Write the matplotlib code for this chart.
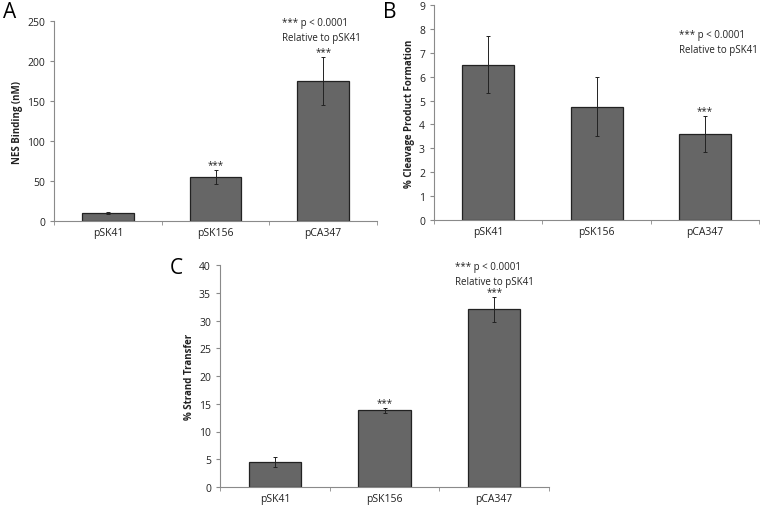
import matplotlib.pyplot as plt
from matplotlib.ticker import FixedLocator

plt.rcParams['font.family'] = ['Open Sans', 'DejaVu Sans']

categories = ['pSK41', 'pSK156', 'pCA347']

nes_binding = [10, 55, 175]
nes_err = [1.5, 9, 30]

cleavage = [6.5, 4.75, 3.6]
cleavage_err = [1.2, 1.25, 0.75]

strand_transfer = [4.5, 13.8, 32]
strand_err = [0.9, 0.5, 2.2]

W, H = 760, 510
BAR_COLOR = '#666666'
SPINE_COLOR = '#8a8a8a'


def px_axes(fig, left, top, right, bottom):
    return fig.add_axes([left / W, 1 - bottom / H, (right - left) / W, (bottom - top) / H])


def draw_panel(ax, values, errs, ymax, ystep, ylabel, stars):
    x = range(len(categories))
    ax.bar(x, values, width=0.48, color=BAR_COLOR, edgecolor='#222222', linewidth=0.9, zorder=2)
    ax.errorbar(x, values, yerr=errs, fmt='none', ecolor='#222222', elinewidth=0.7,
                capsize=1.5, capthick=0.7, zorder=3)
    for i in stars:
        ax.text(i, values[i] + errs[i], '***', ha='center', va='bottom', fontsize=7, color='#222222')
    ax.set_xlim(-0.5, len(categories) - 0.5)
    ax.set_ylim(0, ymax)
    ax.set_yticks([ystep * k for k in range(int(round(ymax / ystep)) + 1)])
    ax.set_xticks(list(x))
    ax.set_xticklabels(categories)
    ax.xaxis.set_minor_locator(FixedLocator([-0.5, 0.5, 1.5, 2.5]))
    ax.tick_params(axis='x', which='major', length=0, pad=4, labelsize=7.5, colors='#222222')
    ax.tick_params(axis='x', which='minor', length=3, color=SPINE_COLOR, direction='out')
    ax.tick_params(axis='y', length=3, color=SPINE_COLOR, labelsize=7.5, labelcolor='#222222')
    for s in ['top', 'right']:
        ax.spines[s].set_visible(False)
    for s in ['left', 'bottom']:
        ax.spines[s].set_color(SPINE_COLOR)
        ax.spines[s].set_linewidth(0.8)
    ax.set_ylabel(ylabel, fontsize=7, fontweight='bold', color='#222222', labelpad=3)


fig = plt.figure(figsize=(W / 100, H / 100), dpi=100)

ax_a = px_axes(fig, 54, 22, 377, 222)
draw_panel(ax_a, nes_binding, nes_err, 250, 50, 'NES Binding (nM)', [1, 2])
fig.text(282 / W, 1 - 31 / H, '*** p < 0.0001\nRelative to pSK41', fontsize=7,
         va='center', ha='left', linespacing=1.6, color='#222222')
fig.text(3 / W, 1 - 13 / H, 'A', fontsize=15, va='center', ha='left')

ax_b = px_axes(fig, 434, 6, 759, 221)
draw_panel(ax_b, cleavage, cleavage_err, 9, 1, '% Cleavage Product Formation', [2])
fig.text(679 / W, 1 - 43 / H, '*** p < 0.0001\nRelative to pSK41', fontsize=7,
         va='center', ha='left', linespacing=1.6, color='#222222')
fig.text(383 / W, 1 - 12 / H, 'B', fontsize=15, va='center', ha='left')

ax_c = px_axes(fig, 220, 266, 549, 488)
draw_panel(ax_c, strand_transfer, strand_err, 40, 5, '% Strand Transfer', [1, 2])
fig.text(455 / W, 1 - 275 / H, '*** p < 0.0001\nRelative to pSK41', fontsize=7,
         va='center', ha='left', linespacing=1.6, color='#222222')
fig.text(170 / W, 1 - 268 / H, 'C', fontsize=15, va='center', ha='left')

fig.savefig('out.png', dpi=100)
